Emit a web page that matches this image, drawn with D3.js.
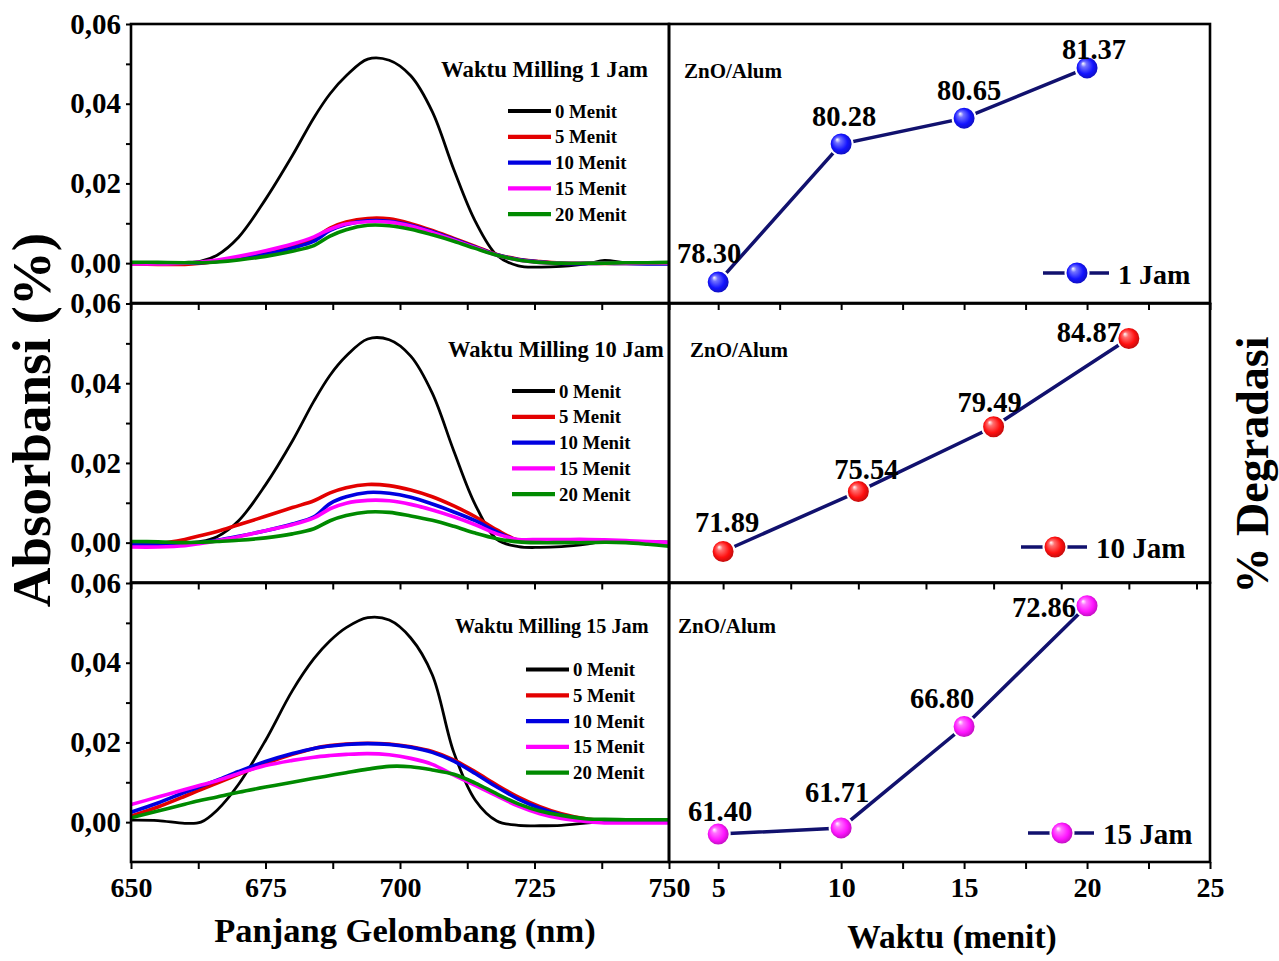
<!DOCTYPE html>
<html lang="en">
  <head>
    <meta charset="utf-8" />
    <style type="text/css">
      body {
        margin: 0;
        background: #fff;
      }
      svg text {
        font-family: "Liberation Serif", "Times New Roman", serif;
        font-weight: bold;
      }
    </style>
  </head>
  <body>
    <svg width="1279" height="961"></svg>

    <script src="https://d3js.org/d3.v7.min.js" type="text/javascript"></script>
    <script type="text/javascript">
      // ---- data ----
      var wavelength = [650, 655, 660, 663, 666, 670, 675, 680, 684, 687, 690, 694, 698,
        702, 706, 710, 714, 718, 722, 726, 730, 735, 738, 742, 746, 750];

      var seriesNames = ["0 Menit", "5 Menit", "10 Menit", "15 Menit", "20 Menit"];

      var spectra1Jam = [
        [0.0002, 0.0002, 0.0002, 0.0005, 0.002, 0.0065, 0.016, 0.027, 0.0365, 0.0425, 0.047, 0.0512, 0.0509, 0.047, 0.038, 0.0235, 0.0105, 0.002, -0.0007, -0.001, -0.0008, -0.0001, 0.0007, 0.0001, 0.0, 0.0],
        [-0.0002, -0.0003, -0.0003, 0.0, 0.0005, 0.0013, 0.0026, 0.0042, 0.0062, 0.0088, 0.0103, 0.0112, 0.0111, 0.0099, 0.0082, 0.0062, 0.0042, 0.0022, 0.001, 0.0004, 0.0, -0.0001, -0.0001, -0.0001, -0.0001, -0.0001],
        [0.0, 0.0, 0.0, 0.0001, 0.0004, 0.0011, 0.0022, 0.0038, 0.0055, 0.0082, 0.0097, 0.0106, 0.0105, 0.0095, 0.0079, 0.006, 0.004, 0.0021, 0.0009, 0.0003, -0.0001, -0.0001, 0.0, -0.0001, -0.0002, -0.0002],
        [-0.0002, -0.0002, 0.0, 0.0003, 0.0008, 0.0017, 0.0031, 0.0048, 0.0066, 0.0085, 0.0098, 0.0104, 0.0103, 0.0093, 0.0077, 0.0058, 0.0039, 0.002, 0.0008, 0.0002, 0.0, 0.0, 0.0, 0.0, 0.0, 0.0],
        [0.0002, 0.0002, 0.0001, 0.0001, 0.0003, 0.0008, 0.0017, 0.003, 0.0044, 0.0068, 0.0084, 0.0095, 0.0094, 0.0085, 0.0071, 0.0055, 0.0037, 0.002, 0.0008, 0.0002, 0.0, 0.0, 0.0, 0.0001, 0.0001, 0.0002]
      ];

      var spectra10Jam = [
        [0.0002, 0.0001, 0.0, 0.0003, 0.0015, 0.0055, 0.0145, 0.0255, 0.0355, 0.042, 0.0468, 0.0511, 0.0509, 0.0468, 0.0375, 0.023, 0.0095, 0.0008, -0.001, -0.0012, -0.001, -0.0003, 0.0003, 0.0, 0.0, 0.0],
        [-0.0002, -0.0002, 0.0008, 0.0018, 0.0028, 0.0045, 0.0066, 0.0088, 0.0105, 0.0125, 0.0138, 0.0146, 0.0143, 0.0132, 0.0115, 0.0092, 0.0065, 0.0032, 0.0006, 0.0004, 0.0004, 0.0004, 0.0004, 0.0002, 0.0001, 0.0],
        [-0.0004, -0.0004, -0.0003, 0.0, 0.0006, 0.0016, 0.003, 0.0047, 0.0065, 0.0098, 0.0115, 0.0126, 0.0124, 0.0114, 0.0097, 0.0077, 0.0055, 0.0027, 0.0005, 0.0004, 0.0003, 0.0003, 0.0004, 0.0002, 0.0001, 0.0],
        [-0.0011, -0.0011, -0.0008, -0.0002, 0.0005, 0.0015, 0.003, 0.0045, 0.0062, 0.0085, 0.0099, 0.0106, 0.0105, 0.0096, 0.0082, 0.0065, 0.0045, 0.0022, 0.0008, 0.0008, 0.0008, 0.0008, 0.0007, 0.0005, 0.0003, 0.0],
        [0.0003, 0.0002, 0.0, 0.0001, 0.0003, 0.0006, 0.0012, 0.0022, 0.0035, 0.0055, 0.0068, 0.0077, 0.0076, 0.0067, 0.0056, 0.0041, 0.0024, 0.001, 0.0002, 0.0, 0.0, 0.0, 0.0001, 0.0, -0.0004, -0.0009]
      ];

      var spectra15Jam = [
        [0.0005, 0.0004, -0.0003, 0.0, 0.003, 0.0095, 0.0205, 0.033, 0.041, 0.0455, 0.0488, 0.0513, 0.0507, 0.0462, 0.037, 0.0175, 0.0055, 0.0003, -0.0008, -0.0009, -0.0008, -0.0002, 0.0003, 0.0004, 0.0003, 0.0003],
        [0.0015, 0.0038, 0.0065, 0.0082, 0.0098, 0.012, 0.0147, 0.017, 0.0185, 0.0192, 0.0196, 0.0198, 0.0196, 0.0189, 0.0177, 0.0156, 0.0126, 0.0093, 0.0063, 0.0039, 0.0021, 0.0007, 0.0004, 0.0003, 0.0003, 0.0003],
        [0.0025, 0.0048, 0.0075, 0.009, 0.0105, 0.0127, 0.0152, 0.0172, 0.0185, 0.0191, 0.0195, 0.0197, 0.0195, 0.0188, 0.0175, 0.0153, 0.0122, 0.0088, 0.0058, 0.0035, 0.0018, 0.0006, 0.0003, 0.0002, 0.0002, 0.0002],
        [0.0044, 0.0063, 0.0082, 0.0093, 0.0104, 0.0122, 0.0142, 0.0155, 0.0163, 0.0167, 0.017, 0.0172, 0.0169, 0.016, 0.0145, 0.0118, 0.0092, 0.0066, 0.004, 0.0021, 0.0009, 0.0001, -0.0002, -0.0002, -0.0002, -0.0002],
        [0.0011, 0.0028, 0.0045, 0.0055, 0.0063, 0.0075, 0.0088, 0.01, 0.011, 0.0117, 0.0124, 0.0133, 0.014, 0.0139, 0.0131, 0.012, 0.0098, 0.0071, 0.0046, 0.0028, 0.0017, 0.0008, 0.0007, 0.0006, 0.0006, 0.0006]
      ];

      var waktu = [5, 10, 15, 20];
      var degradasi1Jam = [78.3, 80.28, 80.65, 81.37];
      var degradasi10Jam = [71.89, 75.54, 79.49, 84.87];
      var degradasi15Jam = [61.4, 61.71, 66.8, 72.86];

      var panelTitles = ["Waktu Milling 1 Jam", "Waktu Milling 10 Jam", "Waktu Milling 15 Jam"];
      var jamLabels = ["1 Jam", "10 Jam", "15 Jam"];
      var absTickLabels = [0, 0.02, 0.04, 0.06];
      var wlTickLabels = [650, 675, 700, 725, 750];
      var waktuTickLabels = [5, 10, 15, 20, 25];

      // ---- layout / style ----
      var seriesColors = ["#000000", "#e30000", "#0000e0", "#ff00ff", "#008a00"];
      var seriesWidths = [2.8, 3.6, 3.6, 3.6, 3.6];
      var markerColors = ["#1414ff", "#ff1010", "#ff14ff"];
      var lineNavy = "#11116e";

      var leftX0 = 131, midX = 669, rightX1 = 1210;
      var panelTop = [24, 303.5, 583], panelH = 279;

      var panels = [
        { spectra: spectra1Jam, deg: degradasi1Jam, xDom: [3, 25], yDom: [78, 82],
          title: { x: 441, y: 77, size: 22.8 }, legend: { x: 508, y: 111, size: 18.8 },
          zno: { x: 684, y: 78 }, jam: { x: 1077, y: 273, size: 28 },
          lbl: [[-9, -19], [3, -18], [5, -18], [7, -9]] },
        { spectra: spectra10Jam, deg: degradasi10Jam, xDom: [3, 23], yDom: [70, 87],
          title: { x: 448, y: 357, size: 22.5 }, legend: { x: 512, y: 391, size: 18.8 },
          zno: { x: 690, y: 357 }, jam: { x: 1055, y: 547, size: 29 },
          lbl: [[4, -19], [8, -13], [-4, -15], [-40, 4]] },
        { spectra: spectra15Jam, deg: degradasi15Jam, xDom: [3, 25], yDom: [60, 74],
          title: { x: 455, y: 633, size: 20.2 }, legend: { x: 526, y: 669.5, size: 18.8 },
          zno: { x: 678, y: 633 }, jam: { x: 1062, y: 833, size: 29 },
          lbl: [[2, -13], [-4, -26], [-22, -18], [-43, 11]] }
      ];

      var svg = d3.select("svg");
      svg.append("rect").attr("width", 1279).attr("height", 961).attr("fill", "#fff");
      var defs = svg.append("defs");

      markerColors.forEach(function (c, i) {
        var g = defs.append("radialGradient")
          .attr("id", "ball" + i)
          .attr("cx", "50%").attr("cy", "50%").attr("r", "55%")
          .attr("fx", "32%").attr("fy", "30%");
        g.append("stop").attr("offset", "0%").attr("stop-color", "#ffffff");
        g.append("stop").attr("offset", "22%").attr("stop-color", d3.interpolateRgb(c, "#fff")(0.4));
        g.append("stop").attr("offset", "62%").attr("stop-color", c);
        g.append("stop").attr("offset", "100%").attr("stop-color", d3.color(c).darker(1.2));
      });

      var x = d3.scaleLinear().domain([650, 750]).range([leftX0, midX]);

      function fmtAbs(d) {
        return d3.format(".2f")(d).replace(".", ",");
      }

      function styleAxis(g, size) {
        g.attr("font-family", "Liberation Serif, serif")
          .attr("font-weight", "bold")
          .attr("font-size", size);
        g.select(".domain").remove();
        g.selectAll(".tick line").attr("stroke", "#000").attr("stroke-width", 2);
        g.selectAll(".tick text").attr("fill", "#000");
      }

      panels.forEach(function (p, pi) {
        var top = panelTop[pi], bottom = top + panelH;
        var y = d3.scaleLinear().domain([-0.01, 0.06]).range([bottom, top]);
        var xr = d3.scaleLinear().domain(p.xDom).range([midX, rightX1]);
        var yr = d3.scaleLinear().domain(p.yDom).range([bottom, top]);
        var isLast = pi === panels.length - 1;

        // clip for spectra
        defs.append("clipPath").attr("id", "clipL" + pi)
          .append("rect").attr("x", leftX0).attr("y", top)
          .attr("width", midX - leftX0).attr("height", panelH);

        // left y axis
        var gy = svg.append("g")
          .attr("transform", "translate(" + leftX0 + ",0)")
          .call(d3.axisLeft(y)
            .tickValues(d3.range(0, 0.0601, 0.01))
            .tickSize(5)
            .tickPadding(5)
            .tickFormat(function (d) {
              return absTickLabels.some(function (t) { return Math.abs(t - d) < 1e-6; }) ? fmtAbs(d) : "";
            }));
        styleAxis(gy, 29);

        // left x axis
        var gx = svg.append("g")
          .attr("transform", "translate(0," + bottom + ")")
          .call(d3.axisBottom(x)
            .tickValues(d3.range(650, 750.1, 12.5))
            .tickSize(7)
            .tickPadding(8)
            .tickFormat(function (d) {
              return isLast && wlTickLabels.indexOf(d) >= 0 ? d : "";
            }));
        styleAxis(gx, 28);

        // right x axis
        var gxr = svg.append("g")
          .attr("transform", "translate(0," + bottom + ")")
          .call(d3.axisBottom(xr)
            .tickValues(d3.range(5, p.xDom[1] + 0.01, 2.5))
            .tickSize(7)
            .tickPadding(8)
            .tickFormat(function (d) {
              return isLast && waktuTickLabels.indexOf(d) >= 0 ? d : "";
            }));
        styleAxis(gxr, 28);

        // spectra
        var line = d3.line()
          .x(function (d) { return x(d[0]); })
          .y(function (d) { return y(d[1]); })
          .curve(d3.curveCatmullRom.alpha(0.5));

        svg.append("g").attr("clip-path", "url(#clipL" + pi + ")")
          .selectAll("path")
          .data(p.spectra)
          .enter()
          .append("path")
          .attr("fill", "none")
          .attr("stroke", function (d, i) { return seriesColors[i]; })
          .attr("stroke-width", function (d, i) { return seriesWidths[i]; })
          .attr("stroke-linejoin", "round")
          .attr("d", function (vals) {
            return line(vals.map(function (v, k) { return [wavelength[k], v]; }));
          });

        // title + legend (left)
        svg.append("text")
          .attr("x", p.title.x).attr("y", p.title.y)
          .attr("font-size", p.title.size)
          .text(panelTitles[pi]);

        var lg = svg.append("g")
          .attr("transform", "translate(" + p.legend.x + "," + p.legend.y + ")");
        seriesNames.forEach(function (name, i) {
          lg.append("line")
            .attr("x1", 0).attr("x2", 43)
            .attr("y1", i * 25.8).attr("y2", i * 25.8)
            .attr("stroke", seriesColors[i]).attr("stroke-width", 4.2);
          lg.append("text")
            .attr("x", 47).attr("y", i * 25.8 + 6.5)
            .attr("font-size", p.legend.size)
            .text(name);
        });

        // right panel: degradation
        svg.append("text")
          .attr("x", p.zno.x).attr("y", p.zno.y)
          .attr("font-size", 21)
          .text("ZnO/Alum");

        var pts = waktu.map(function (w, k) { return [w, p.deg[k]]; });

        svg.append("path")
          .attr("fill", "none")
          .attr("stroke", lineNavy)
          .attr("stroke-width", 3.5)
          .attr("d", d3.line()
            .x(function (d) { return xr(d[0]); })
            .y(function (d) { return yr(d[1]); })(pts));

        svg.append("g").selectAll("circle")
          .data(pts)
          .enter()
          .append("circle")
          .attr("cx", function (d) { return xr(d[0]); })
          .attr("cy", function (d) { return yr(d[1]); })
          .attr("r", 11.5)
          .attr("fill", "url(#ball" + pi + ")")
          .attr("stroke", "#fff")
          .attr("stroke-width", 2);

        svg.append("g").selectAll("text")
          .data(pts)
          .enter()
          .append("text")
          .attr("x", function (d, k) { return xr(d[0]) + p.lbl[k][0]; })
          .attr("y", function (d, k) { return yr(d[1]) + p.lbl[k][1]; })
          .attr("text-anchor", "middle")
          .attr("font-size", 28.5)
          .text(function (d) { return d3.format(".2f")(d[1]); });

        // right legend
        var jl = svg.append("g")
          .attr("transform", "translate(" + p.jam.x + "," + p.jam.y + ")");
        jl.append("line")
          .attr("x1", -34).attr("x2", 32)
          .attr("stroke", lineNavy).attr("stroke-width", 3.5);
        jl.append("circle")
          .attr("r", 11.5)
          .attr("fill", "url(#ball" + pi + ")")
          .attr("stroke", "#fff").attr("stroke-width", 2);
        jl.append("text")
          .attr("x", 41).attr("y", 10.5)
          .attr("font-size", p.jam.size)
          .text(jamLabels[pi]);

        // frames
        svg.append("rect")
          .attr("x", leftX0).attr("y", top)
          .attr("width", midX - leftX0).attr("height", panelH)
          .attr("fill", "none").attr("stroke", "#000").attr("stroke-width", 2.6);
        svg.append("rect")
          .attr("x", midX).attr("y", top)
          .attr("width", rightX1 - midX).attr("height", panelH)
          .attr("fill", "none").attr("stroke", "#000").attr("stroke-width", 2.6);
      });

      // axis titles
      svg.append("text")
        .attr("transform", "translate(50,420) rotate(-90)")
        .attr("text-anchor", "middle")
        .attr("font-size", 55)
        .text("Absorbansi (%)");

      svg.append("text")
        .attr("transform", "translate(1268,465) rotate(-90)")
        .attr("text-anchor", "middle")
        .attr("font-size", 46)
        .text("% Degradasi");

      svg.append("text")
        .attr("x", 405).attr("y", 942)
        .attr("text-anchor", "middle")
        .attr("font-size", 34.5)
        .text("Panjang Gelombang (nm)");

      svg.append("text")
        .attr("x", 952).attr("y", 948)
        .attr("text-anchor", "middle")
        .attr("font-size", 33.5)
        .text("Waktu (menit)");
    </script>
  </body>
</html>
